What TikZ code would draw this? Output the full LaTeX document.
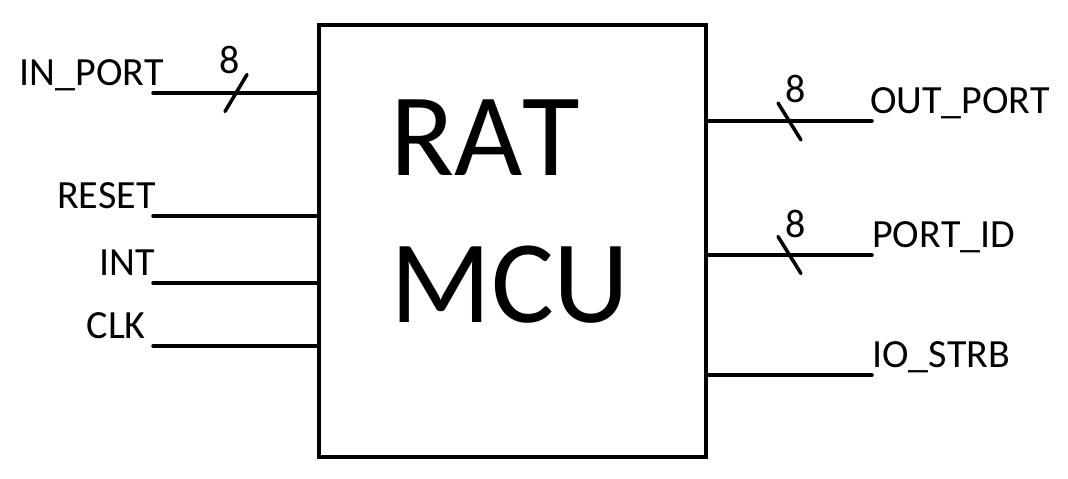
\documentclass[tikz,border=0pt]{standalone}
\usepackage{fontspec}
\setmainfont{Carlito}[Kerning=Off]
\usetikzlibrary{positioning, calc}

\begin{document}
\begin{tikzpicture}[x=1pt, y=-1pt,
  every node/.style={inner sep=0pt, font=\fontsize{40}{42}\selectfont},
  chip/.style={draw, line width=4pt, minimum width=387pt, minimum height=432pt},
  pin/.style={line width=3.5pt, line cap=round},
  bus/.style={line width=3.5pt, line cap=round},
  big/.style={font=\fontsize{118}{122}\selectfont, anchor=base west}
]
  \useasboundingbox (0,0) rectangle (1068,479);
  \node[chip] (mcu) at (512.5,241) {};
  \node[big] (rat) at (390,175) {RAT};
  \node[big] (mcutxt) at (390,322) {MCU};

  % inputs
  \coordinate (inport) at (153,93);
  \coordinate (reset) at (153,216);
  \coordinate (int) at (153,283);
  \coordinate (clk) at (153,346);
  \draw[pin] (inport) -- (inport -| mcu.west);
  \draw[pin] (reset) -- (reset -| mcu.west);
  \draw[pin] (int) -- (int -| mcu.west);
  \draw[pin] (clk) -- (clk -| mcu.west);
  \node[anchor=base east] (inportlbl) at (164,85) {IN\_PORT};
  \node[anchor=base east] (resetlbl) at (156,208) {RESET};
  \node[anchor=base east] (intlbl) at (155,275) {INT};
  \node[anchor=base east] (clklbl) at (146,338) {CLK};

  % input bus width
  \coordinate (inslash) at (236,93);
  \draw[bus] ($(inslash)+(-11,18.5)$) -- ($(inslash)+(11,-18.5)$);
  \node[anchor=base] (inwidth) at (230,73) {8};

  % outputs
  \coordinate (outport) at (872,121);
  \coordinate (portid) at (872,255);
  \coordinate (iostrb) at (872,375);
  \draw[pin] (outport -| mcu.east) -- (outport);
  \draw[pin] (portid -| mcu.east) -- (portid);
  \draw[pin] (iostrb -| mcu.east) -- (iostrb);
  \node[anchor=base west] (outportlbl) at (870,113) {OUT\_PORT};
  \node[anchor=base west] (portidlbl) at (872,247) {PORT\_ID};
  \node[anchor=base west] (iostrblbl) at (872,367) {IO\_STRB};

  % output bus widths
  \coordinate (outslash) at (789.5,121.5);
  \coordinate (idslash) at (789.5,255);
  \draw[bus] ($(outslash)+(-11.5,-18.5)$) -- ($(outslash)+(11.5,18.5)$);
  \draw[bus] ($(idslash)+(-11.5,-18.5)$) -- ($(idslash)+(11.5,18.5)$);
  \node[anchor=base] (outwidth) at (796,102) {8};
  \node[anchor=base] (idwidth) at (796,237) {8};
\end{tikzpicture}
\end{document}
